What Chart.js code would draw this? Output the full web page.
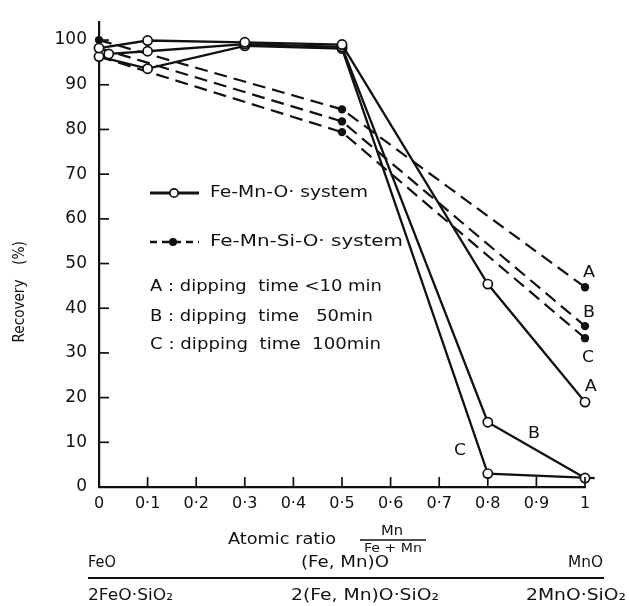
<!DOCTYPE html>
<html><head><meta charset="utf-8">
<script src="https://cdn.jsdelivr.net/npm/chart.js@4"></script>
<style>html,body{margin:0;padding:0;background:#fff}</style>
</head><body>
<canvas id="c" width="629" height="606"></canvas>
<script>
// ---- data ----
const xTicks = [0,0.1,0.2,0.3,0.4,0.5,0.6,0.7,0.8,0.9,1];
const xTickLabels = ['0','0·1','0·2','0·3','0·4','0·5','0·6','0·7','0·8','0·9','1'];
const yTicks = [0,10,20,30,40,50,60,70,80,90,100];

// Fe-Mn-O system (open circles)
const solidA_x = [0,0.1,0.3,0.5,0.8,1];
const solidA_y = [98.2,99.9,99.5,99.0,45.4,19.0];
const solidB_x = [0.02,0.1,0.3,0.5,0.8,1];
const solidB_y = [96.9,97.5,99.1,98.5,14.5,2.0];
const solidC_x = [0,0.1,0.3,0.5,0.8,1.02];
const solidC_y = [96.3,93.6,98.7,98.1,3.0,2.0];
// Fe-Mn-Si-O system (filled circles)
const dash_x = [0,0.5,1];
const dashA_y = [100,84.5,44.7];
const dashB_y = [98.2,81.8,36.0];
const dashC_y = [96.3,79.4,33.3];

const pts = (xs, ys) => xs.map((x,i)=>({x:x, y:ys[i]}));
const INK = '#111';
const FONT = 'DejaVu Sans';

function solidDs(xs, ys){
  return {data:pts(xs,ys), borderColor:INK, borderWidth:2.3, pointRadius:4.6,
    pointBorderWidth:1.7, pointBackgroundColor:'#fff', pointBorderColor:INK,
    tension:0, clip:false};
}
function dashDs(xs, ys){
  return {data:pts(xs,ys), borderColor:INK, borderWidth:2.2, borderDash:[13,7],
    pointRadius:4.2, pointBorderWidth:0, pointBackgroundColor:INK, pointBorderColor:INK,
    tension:0, clip:false};
}

// draw text stretched horizontally to a target width (reference face is wide)
function txt(ctx, s, x, y, size, align, target){
  ctx.save();
  ctx.font = size + 'px "' + FONT + '"';
  ctx.fillStyle = INK;
  ctx.textBaseline = 'middle';
  ctx.textAlign = 'left';
  const w = ctx.measureText(s).width;
  const tw = target || w;
  let x0 = x;
  if (align === 'center') x0 = x - tw/2;
  else if (align === 'right') x0 = x - tw;
  ctx.translate(x0, y);
  ctx.scale(tw / w, 1);
  ctx.fillText(s, 0, 0);
  ctx.restore();
}

const decor = {
  id:'decor',
  afterDraw(chart){
    const ctx = chart.ctx, xs = chart.scales.x, ys = chart.scales.y;
    const L = chart.chartArea.left, B = chart.chartArea.bottom;
    ctx.save();
    ctx.strokeStyle = INK; ctx.lineWidth = 1.7;
    // inner ticks
    yTicks.forEach(v=>{ if(v===0) return; const p = ys.getPixelForValue(v);
      ctx.beginPath(); ctx.moveTo(L, p); ctx.lineTo(L+10, p); ctx.stroke(); });
    xTicks.forEach(v=>{ if(v===0) return; const p = xs.getPixelForValue(v);
      ctx.beginPath(); ctx.moveTo(p, B); ctx.lineTo(p, B-10); ctx.stroke(); });
    // legend
    ctx.lineWidth = 2.8;
    ctx.beginPath(); ctx.moveTo(150,193); ctx.lineTo(199,193); ctx.stroke();
    ctx.beginPath(); ctx.arc(174,193,4.2,0,Math.PI*2); ctx.fillStyle='#fff'; ctx.fill();
    ctx.lineWidth = 1.7; ctx.stroke();
    ctx.lineWidth = 2.4; ctx.setLineDash([7,5]);
    ctx.beginPath(); ctx.moveTo(150,242); ctx.lineTo(199,242); ctx.stroke();
    ctx.setLineDash([]);
    ctx.beginPath(); ctx.arc(173,242,4,0,Math.PI*2); ctx.fillStyle=INK; ctx.fill();
    ctx.restore();

    txt(ctx,'Fe-Mn-O· system',210,193,15,'left',158);
    txt(ctx,'Fe-Mn-Si-O· system',210,242,15,'left',193);
    txt(ctx,'A : dipping  time <10 min',150,287,15,'left',232);
    txt(ctx,'B : dipping  time   50min',150,317,15,'left',223);
    txt(ctx,'C : dipping  time  100min',150,345,15,'left',231);

    // curve labels
    const labs = [['A',1.008,48.0],['B',1.008,39.0],['C',1.006,28.9],['A',1.012,22.3],['B',0.895,12.0],['C',0.743,8.1]];
    labs.forEach(l=>txt(ctx,l[0],xs.getPixelForValue(l[1]),ys.getPixelForValue(l[2]),16,'center',12));

    // y title
    ctx.save();
    ctx.translate(20,291); ctx.rotate(-Math.PI/2);
    txt(ctx,'Recovery',-20,0,15,'center',63);
    txt(ctx,'(%)',38,0,15,'center',24);
    ctx.restore();

    // x title
    txt(ctx,'Atomic ratio',228,540,15,'left',108);
    txt(ctx,'Mn',392,531,14,'center',22);
    ctx.save(); ctx.strokeStyle=INK; ctx.lineWidth=1.3;
    ctx.beginPath(); ctx.moveTo(360,540); ctx.lineTo(426,540); ctx.stroke(); ctx.restore();
    txt(ctx,'Fe + Mn',393,549,13,'center',58);

    // composition line
    txt(ctx,'FeO',88,563,15,'left',28);
    txt(ctx,'(Fe, Mn)O',345,563,15,'center',88);
    txt(ctx,'MnO',603,563,15,'right',35);
    ctx.save(); ctx.strokeStyle=INK; ctx.lineWidth=2;
    ctx.beginPath(); ctx.moveTo(88,578); ctx.lineTo(604,578); ctx.stroke(); ctx.restore();
    txt(ctx,'2FeO·SiO₂',88,596,15,'left',85);
    txt(ctx,'2(Fe, Mn)O·SiO₂',365,596,15,'center',148);
    txt(ctx,'2MnO·SiO₂',626,596,15,'right',100);
  }
};

new Chart(document.getElementById('c'), {
  type:'line',
  data:{datasets:[
    solidDs(solidA_x, solidA_y), solidDs(solidB_x, solidB_y), solidDs(solidC_x, solidC_y),
    dashDs(dash_x, dashA_y), dashDs(dash_x, dashB_y), dashDs(dash_x, dashC_y)
  ]},
  options:{
    responsive:false, animation:false, devicePixelRatio:1,
    layout:{padding:{top:13,right:44,left:0,bottom:0}},
    plugins:{legend:{display:false}, tooltip:{enabled:false}},
    scales:{
      x:{type:'linear', min:0, max:1,
        afterBuildTicks:s=>{s.ticks = xTicks.map(v=>({value:v}));},
        ticks:{callback:(v,i)=>xTickLabels[i], font:{family:FONT,size:16}, color:INK, padding:7, maxRotation:0, autoSkip:false},
        grid:{display:true, drawOnChartArea:false, drawTicks:false},
        border:{display:true, width:2.2, color:INK},
        afterFit:s=>{s.height = 119;}},
      y:{type:'linear', min:0, max:104,
        afterBuildTicks:s=>{s.ticks = yTicks.map(v=>({value:v}));},
        ticks:{callback:v=>String(v), font:{family:FONT,size:17}, color:INK, padding:12},
        grid:{display:true, drawOnChartArea:false, drawTicks:false},
        border:{display:true, width:2.2, color:INK},
        afterFit:s=>{s.width = 99;}}
    }
  },
  plugins:[decor]
});
</script>
</body></html>
